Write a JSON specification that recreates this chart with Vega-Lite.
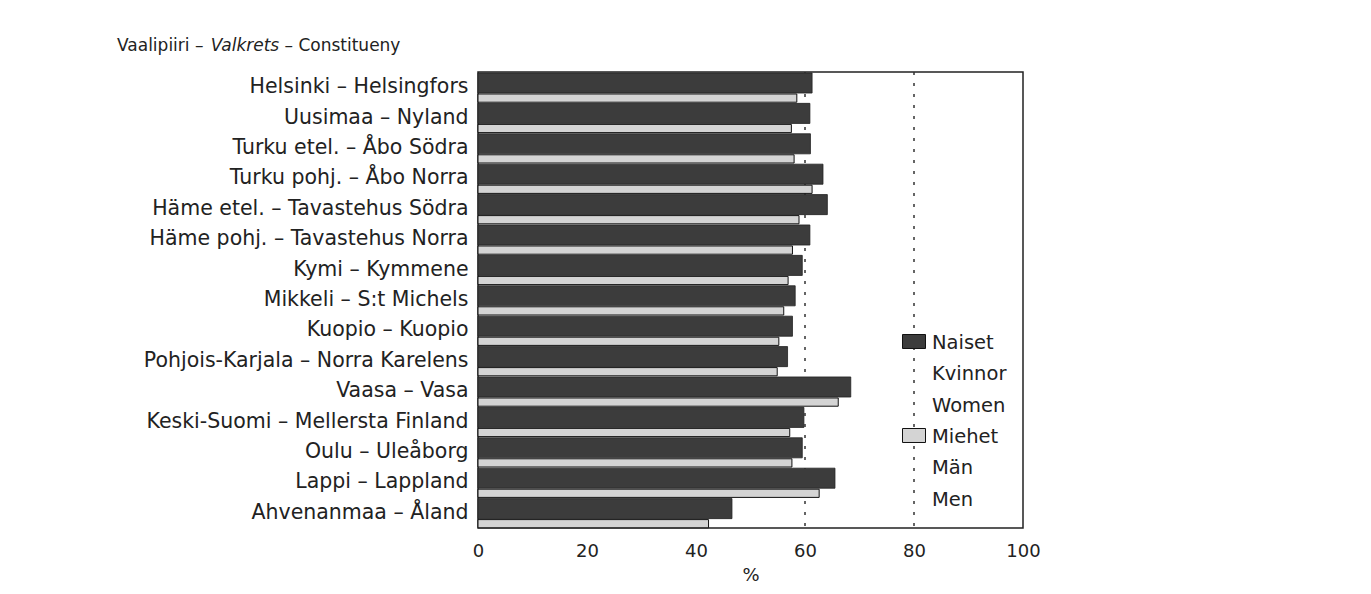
{
  "$schema": "https://vega.github.io/schema/vega-lite/v6.json",
  "width": 545,
  "height": 456,
  "autosize": {"type": "none"},
  "padding": {"left": 478, "top": 72, "right": 348, "bottom": 66},
  "background": "white",
  "config": {
    "font": "DejaVu Sans, sans-serif",
    "view": {"stroke": "#222", "strokeWidth": 1.5},
    "style": {"guide-label": {"lineHeight": 31.5}}
  },
  "title": {
    "text": "Vaalipiiri –\u00a0\u00a0\u00a0\u00a0\u00a0\u00a0\u00a0\u00a0\u00a0\u00a0\u00a0\u00a0\u00a0\u00a0\u00a0– Constitueny",
    "anchor": "start",
    "frame": "group",
    "dx": -361,
    "offset": -18.5,
    "fontSize": 17,
    "fontWeight": "normal",
    "color": "#222"
  },
  "data": {
    "values": [
      {"region": "Helsinki – Helsingfors", "sex": "Naiset", "pct": 61.3},
      {"region": "Helsinki – Helsingfors", "sex": "Miehet", "pct": 58.5},
      {"region": "Uusimaa – Nyland", "sex": "Naiset", "pct": 60.9},
      {"region": "Uusimaa – Nyland", "sex": "Miehet", "pct": 57.5},
      {"region": "Turku etel. – Åbo Södra", "sex": "Naiset", "pct": 61.0},
      {"region": "Turku etel. – Åbo Södra", "sex": "Miehet", "pct": 58.0},
      {"region": "Turku pohj. – Åbo Norra", "sex": "Naiset", "pct": 63.3},
      {"region": "Turku pohj. – Åbo Norra", "sex": "Miehet", "pct": 61.3},
      {"region": "Häme etel. – Tavastehus Södra", "sex": "Naiset", "pct": 64.1},
      {"region": "Häme etel. – Tavastehus Södra", "sex": "Miehet", "pct": 58.9},
      {"region": "Häme pohj. – Tavastehus Norra", "sex": "Naiset", "pct": 60.9},
      {"region": "Häme pohj. – Tavastehus Norra", "sex": "Miehet", "pct": 57.7},
      {"region": "Kymi – Kymmene", "sex": "Naiset", "pct": 59.5},
      {"region": "Kymi – Kymmene", "sex": "Miehet", "pct": 56.9},
      {"region": "Mikkeli – S:t Michels", "sex": "Naiset", "pct": 58.2},
      {"region": "Mikkeli – S:t Michels", "sex": "Miehet", "pct": 56.1},
      {"region": "Kuopio – Kuopio", "sex": "Naiset", "pct": 57.7},
      {"region": "Kuopio – Kuopio", "sex": "Miehet", "pct": 55.2},
      {"region": "Pohjois-Karjala – Norra Karelens", "sex": "Naiset", "pct": 56.8},
      {"region": "Pohjois-Karjala – Norra Karelens", "sex": "Miehet", "pct": 54.9},
      {"region": "Vaasa – Vasa", "sex": "Naiset", "pct": 68.4},
      {"region": "Vaasa – Vasa", "sex": "Miehet", "pct": 66.1},
      {"region": "Keski-Suomi – Mellersta Finland", "sex": "Naiset", "pct": 59.8},
      {"region": "Keski-Suomi – Mellersta Finland", "sex": "Miehet", "pct": 57.2},
      {"region": "Oulu – Uleåborg", "sex": "Naiset", "pct": 59.5},
      {"region": "Oulu – Uleåborg", "sex": "Miehet", "pct": 57.6},
      {"region": "Lappi – Lappland", "sex": "Naiset", "pct": 65.5},
      {"region": "Lappi – Lappland", "sex": "Miehet", "pct": 62.6},
      {"region": "Ahvenanmaa – Åland", "sex": "Naiset", "pct": 46.6},
      {"region": "Ahvenanmaa – Åland", "sex": "Miehet", "pct": 42.3}
    ]
  },
  "layer": [
    {
      "data": {"values": [{"g": 60}, {"g": 80}]},
      "mark": {"type": "rule", "strokeDash": [3, 8], "color": "#333", "strokeWidth": 1.5},
      "encoding": {
        "x": {"field": "g", "type": "quantitative", "scale": {"domain": [0, 100], "nice": false}}
      }
    },
    {
      "transform": [{"filter": "datum.sex == 'Naiset'"}],
      "mark": {"type": "bar", "height": {"band": 0.66}, "yOffset": -4.2, "stroke": "#222", "strokeWidth": 0.8},
      "encoding": {
        "x": {
          "field": "pct", "type": "quantitative",
          "scale": {"domain": [0, 100], "nice": false},
          "axis": {"title": "%", "values": [0, 20, 40, 60, 80, 100], "ticks": false, "domain": false, "grid": false,
                   "labelFlush": false,
                   "labelFontSize": 18, "labelPadding": 14, "labelColor": "#222",
                   "titleFontSize": 18, "titleFontWeight": "normal", "titleColor": "#222", "titlePadding": 6}
        },
        "y": {
          "field": "region", "type": "nominal", "sort": null,
          "scale": {"paddingInner": 0, "paddingOuter": 0},
          "axis": {"title": "Valkrets", "titleFontStyle": "italic", "titleFontWeight": "normal", "titleFontSize": 17,
                   "titleColor": "#222", "titleAngle": 0, "titleAlign": "left", "titleBaseline": "middle",
                   "titleX": -267.8, "titleY": -27,
                   "ticks": false, "domain": false, "labelFontSize": 20.5, "labelPadding": 10, "labelLimit": 0,
                   "labelColor": "#222"}
        },
        "color": {
          "field": "sex", "type": "nominal",
          "scale": {"domain": ["Naiset", "Miehet"], "range": ["#3c3c3c", "#d4d4d4"]},
          "legend": {"orient": "none", "legendX": 424, "legendY": 249.5, "title": null,
                     "symbolType": "M-1,0.087H1V1.304H-1Z", "symbolSize": 529, "symbolStrokeColor": "#111", "symbolStrokeWidth": 1,
                     "labelExpr": "datum.label == 'Naiset' ? ['Naiset','Kvinnor','Women'] : ['Miehet','Män','Men']",
                     "labelFontSize": 19.5, "labelColor": "#222", "labelLimit": 0, "labelBaseline": "top",
                     "labelOffset": 6, "rowPadding": 0}
        }
      }
    },
    {
      "transform": [{"filter": "datum.sex == 'Miehet'"}],
      "mark": {"type": "bar", "height": {"band": 0.27}, "yOffset": 10.9, "stroke": "#111", "strokeWidth": 1},
      "encoding": {
        "x": {"field": "pct", "type": "quantitative", "scale": {"domain": [0, 100], "nice": false}},
        "y": {"field": "region", "type": "nominal", "sort": null},
        "color": {"field": "sex", "type": "nominal"}
      }
    }
  ]
}
